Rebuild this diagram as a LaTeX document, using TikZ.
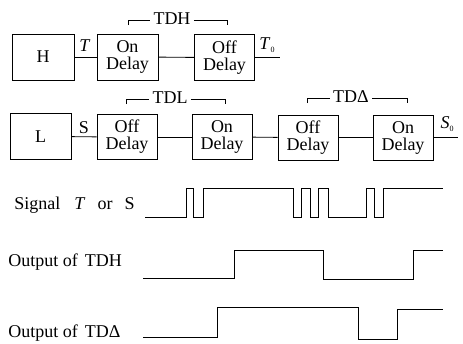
\documentclass[tikz,border=0pt]{standalone}
\usepackage{fontspec}
\setmainfont{Liberation Serif}
\begin{document}
\begin{tikzpicture}[x=1pt,y=-1pt,
  line width=0.9pt,
  every node/.style={font=\fontsize{18}{17}\selectfont, inner sep=0pt},
  blk/.style={draw, rectangle, minimum height=46pt, align=center},
  wave/.style={line width=0.9pt, line join=miter},
  lbl/.style={anchor=west, font=\fontsize{18}{18}\selectfont}]
\useasboundingbox (0,0) rectangle (463,343);
% Row 1
\node[blk, minimum width=62pt] (H) at (43,57) {H};
\node[blk, minimum width=61pt] (on1) at (127.5,57) {On\\Delay};
\node[blk, minimum width=60pt] (off1) at (224.5,57.5) {Off\\Delay};
\coordinate (t0end) at (280,57.5);
\draw (H) -- (on1);
\draw (on1) -- (off1);
\draw (off1) -- (t0end);
\node (Tl) at (85,46) {\textit{T}};
\node (T0l) at (267,45) {\textit{T}\raisebox{-3pt}{\fontsize{8}{8}\selectfont 0}};
% TDH bracket
\node (tdh) at (172,19) {TDH};
\coordinate (tdhL) at (128,25);
\coordinate (tdhR) at (227,25);
\draw (tdhL) -- (tdhL |- 0,20) -- ([xshift=-3pt]tdh.west |- 0,20);
\draw ([xshift=3pt]tdh.east |- 0,20) -- (tdhR |- 0,20) -- (tdhR);
% Row 2
\node[blk, minimum width=61pt] (L) at (40.5,136.5) {L};
\node[blk, minimum width=60pt, minimum height=45pt] (off2) at (127,137) {Off\\Delay};
\node[blk, minimum width=60pt, minimum height=45pt] (on2) at (222,137) {On\\Delay};
\node[blk, minimum width=60pt, minimum height=45pt] (off3) at (308,137.5) {Off\\Delay};
\node[blk, minimum width=60pt, minimum height=45pt] (on3) at (403,137.5) {On\\Delay};
\coordinate (s0end) at (458,137.5);
\draw (L) -- (off2);
\draw (off2) -- (on2);
\draw (on2) -- (off3);
\draw (off3) -- (on3);
\draw (on3) -- (s0end);
\node (Sl) at (84,128) {S};
\node (S0l) at (447,124) {\textit{S}\raisebox{-3pt}{\fontsize{8}{8}\selectfont 0}};
% TDL bracket
\node (tdl) at (170,98) {TDL};
\coordinate (tdlL) at (126,104);
\coordinate (tdlR) at (225,104);
\draw (tdlL) -- (tdlL |- 0,99) -- ([xshift=-3pt]tdl.west |- 0,99);
\draw ([xshift=3pt]tdl.east |- 0,99) -- (tdlR |- 0,99) -- (tdlR);
% TDDelta bracket
\node (tdd) at (351,97) {TDΔ};
\coordinate (tddL) at (307,103);
\coordinate (tddR) at (407,103);
\draw (tddL) -- (tddL |- 0,98) -- ([xshift=-3pt]tdd.west |- 0,98);
\draw ([xshift=3pt]tdd.east |- 0,98) -- (tddR |- 0,98) -- (tddR);
% Waveform labels
\node[lbl] (sig) at (14,205) {Signal\hspace{14pt}\textit{T}\hspace{12pt}or\hspace{12pt}S};
\node[lbl] (otdh) at (8,262) {Output of\hspace{7pt}TDH};
\node[lbl] (otdd) at (8,333) {Output of\hspace{7pt}TDΔ};
% Signal waveform
\draw[wave] (145,217) -- (186,217) -- (186,188) -- (193,188) -- (193,217) -- (203,217) -- (203,188)
  -- (293,188) -- (293,217) -- (301,217) -- (301,188) -- (310,188) -- (310,217) -- (318,217) -- (318,188)
  -- (328,188) -- (328,217) -- (366,217) -- (366,188) -- (374,188) -- (374,217) -- (383,217) -- (383,188) -- (443,188);
% TDH output
\draw[wave] (143,278) -- (234,278) -- (234,250) -- (323,250) -- (323,279) -- (413,279) -- (413,250) -- (443,250);
% TDDelta output
\draw[wave] (143,337) -- (217,337) -- (217,307) -- (358,307) -- (358,339) -- (397,339) -- (397,309) -- (443,309);
\end{tikzpicture}
\end{document}
